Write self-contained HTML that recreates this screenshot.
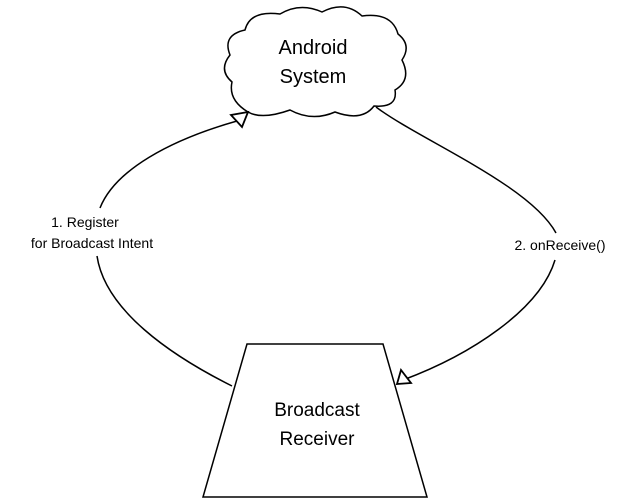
<!DOCTYPE html>
<html><head><style>
html,body{margin:0;padding:0;background:#fff;}
svg{display:block;}
text{font-family:"Comic Sans MS","Liberation Sans",sans-serif;fill:#000;}
</style></head><body>
<svg width="624" height="501" viewBox="0 0 624 501">
<g fill="none" stroke="#000" stroke-width="1.5">
<path d="M248,112 Q228,100 232,82 Q218,70 230,55 Q222,35 245,30 Q250,10 280,14 Q300,2 322,12 Q345,0 362,16 Q392,12 398,34 Q412,45 402,60 Q412,80 395,90 Q398,108 374,106 Q362,122 335,112 Q312,122 290,110 Q262,120 248,112 Z" fill="#fff"/>
<path d="M247,344 L383,344 L427,497 L203,497 Z" fill="#fff"/>
<path d="M100,208 C115,170 170,140 237,121"/>
<path d="M97,256 C105,310 170,355 232,386"/>
<path d="M376,107 C420,140 530,185 556,233"/>
<path d="M555,260 C540,310 470,355 403,380"/>
</g>
<g fill="#fff" stroke="#000" stroke-width="1.8">
<polygon points="248,112 231,115 242,127"/>
<polygon points="397,384 401,370 411,383"/>
</g>
<text x="313" y="54" font-size="20" text-anchor="middle">Android</text>
<text x="313" y="83" font-size="20" text-anchor="middle">System</text>
<text x="317" y="416" font-size="19" text-anchor="middle">Broadcast</text>
<text x="317" y="445" font-size="19" text-anchor="middle">Receiver</text>
<text x="85" y="227" font-size="14" text-anchor="middle">1. Register</text>
<text x="92" y="248" font-size="14" text-anchor="middle">for Broadcast Intent</text>
<text x="560" y="250" font-size="14" text-anchor="middle">2. onReceive()</text>
</svg>
</body></html>
